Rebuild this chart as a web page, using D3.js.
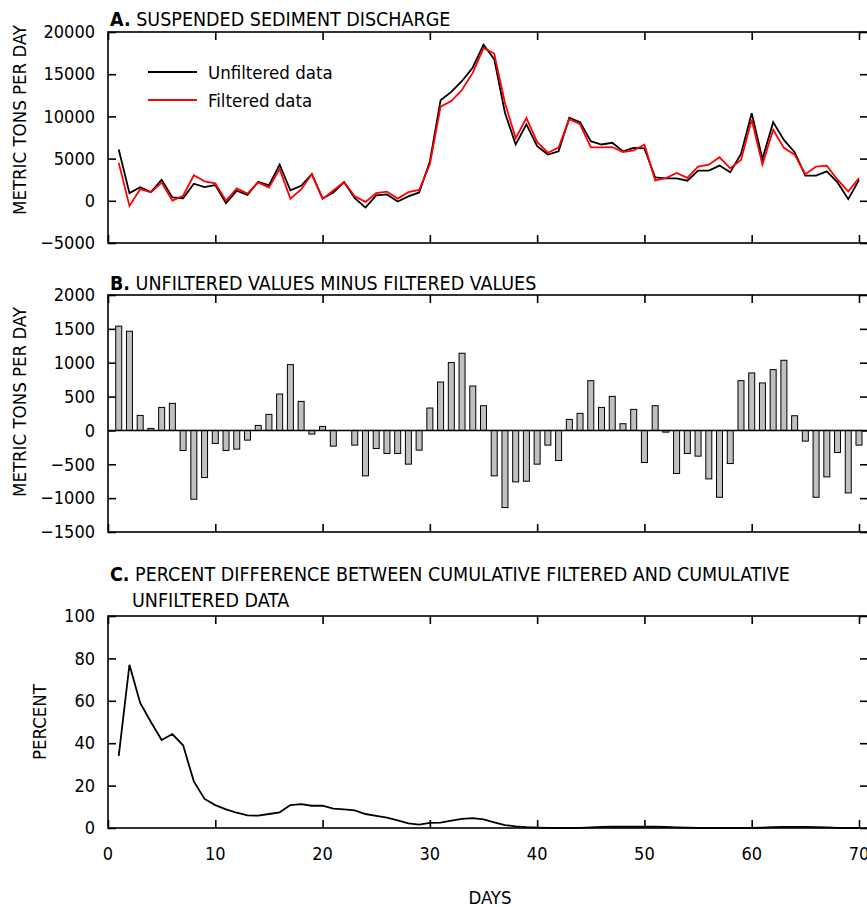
<!DOCTYPE html>
<html><head><meta charset="utf-8">
<script src="https://cdn.jsdelivr.net/npm/d3@7"></script>
<style>
body{margin:0;background:#fff;}
text{font-family:"Liberation Sans Narrow","DejaVu Sans Condensed","Arial Narrow",sans-serif;fill:#000;}
</style></head><body>
<svg id="c" width="867" height="907"></svg>
<script>
const days = d3.range(1, 71);
const unfiltered = [6070,910,1600,1030,2500,400,300,2020,1630,1870,-280,1190,710,2260,1820,4290,1230,1780,3170,280,990,2220,320,-800,640,750,-80,520,990,4650,
  11900,12900,14200,15800,18490,16790,10440,6670,9050,6470,5480,5870,9840,9320,7060,6670,6870,5870,6270,6200,
  2780,2660,2660,2380,3570,3570,4170,3370,5560,10390,4960,9320,7220,5750,2980,2980,3490,2180,200,2460];
const filtered = [4490,-600,1380,1000,2160,20,600,3020,2300,2060,0,1460,850,2190,1580,3750,260,1350,3170,220,1220,2220,540,-130,900,1090,260,1020,1280,4320,
  11150,11820,13150,15150,18100,17450,11580,7430,9800,6970,5700,6310,9680,9070,6330,6330,6370,5770,5960,6670,
  2420,2680,3300,2720,4040,4280,5160,3850,4830,9600,4290,8410,6270,5470,3140,4050,4170,2500,1120,2680];
const difference = [1540,1465,222,30,340,400,-296,-1016,-696,-192,-296,-276,-143,74,237,538,972,429,-54,59,-232,0,-217,-671,-266,-340,-340,-498,-291,331,
  715,1002,1140,656,365,-671,-1140,-760,-750,-498,-217,-444,163,252,735,340,503,99,311,-474,
  365,-25,-636,-340,-380,-716,-987,-489,735,849,701,898,1036,217,-158,-987,-686,-326,-923,-217];
const percentDiff = [34,77,59,50,41.5,44.3,39,22,13.7,10.8,8.8,7.2,6,5.8,6.6,7.4,10.8,11.3,10.5,10.5,9.1,8.8,8.3,6.6,5.7,4.9,3.6,2.2,1.6,2.4,
  2.5,3.5,4.3,4.7,4.1,2.7,1.4,0.8,0.4,0.2,0.1,0,0,0.1,0.3,0.5,0.6,0.6,0.6,0.6,
  0.6,0.5,0.3,0.2,0,0,0,0,0,0,0.2,0.4,0.5,0.5,0.5,0.4,0.3,0.1,0,0];
const xTicks = [0,10,20,30,40,50,60,70];
const yTicksA = [-5000,0,5000,10000,15000,20000];
const yTicksB = [-1500,-1000,-500,0,500,1000,1500,2000];
const yTicksC = [0,20,40,60,80,100];

const svg = d3.select("#c");
const x = d3.scaleLinear().domain([0, 70.84]).range([108, 868]);

function panel(top, bottom, domain, ticks) {
  const y = d3.scaleLinear().domain(domain).range([bottom, top]);
  const g = svg.append("g");
  g.append("rect").attr("x", x(0)).attr("y", top).attr("width", x(70.84)-x(0)).attr("height", bottom-top)
    .attr("fill", "none").attr("stroke", "#000").attr("stroke-width", 1.6);
  const tl = 8;
  g.append("g").attr("transform", `translate(${x(0)},0)`)
    .call(d3.axisLeft(y).tickValues(ticks).tickSize(-tl).tickPadding(13).tickFormat(d3.format("d")))
    .call(s => { s.select(".domain").remove(); s.selectAll("line").attr("stroke-width",1.6);
      s.selectAll("text").attr("font-size", 18); });
  g.append("g").attr("transform", `translate(${x(70.84)},0)`)
    .call(d3.axisRight(y).tickValues(ticks).tickSize(-tl).tickFormat(""))
    .call(s => { s.select(".domain").remove(); s.selectAll("line").attr("stroke-width",1.6); });
  g.append("g").attr("transform", `translate(0,${top})`)
    .call(d3.axisTop(x).tickValues(xTicks).tickSize(-tl).tickFormat(""))
    .call(s => { s.select(".domain").remove(); s.selectAll("line").attr("stroke-width",1.6); });
  g.append("g").attr("transform", `translate(0,${bottom})`)
    .call(d3.axisBottom(x).tickValues(xTicks).tickSize(-tl).tickFormat(""))
    .call(s => { s.select(".domain").remove(); s.selectAll("line").attr("stroke-width",1.6); });
  return {y, g};
}

// Panel A
const A = panel(32, 243, [-5000, 20000], yTicksA);
const lineA = d3.line().x((d,i) => x(days[i])).y(d => A.y(d));
A.g.append("path").datum(unfiltered).attr("d", lineA).attr("fill","none").attr("stroke","#000").attr("stroke-width",1.8);
A.g.append("path").datum(filtered).attr("d", lineA).attr("fill","none").attr("stroke","#ff0000").attr("stroke-width",1.8);
const leg = [["Unfiltered data","#000",72],["Filtered data","#ff0000",100]];
leg.forEach(([t,c,yy]) => {
  svg.append("line").attr("x1",148).attr("x2",197).attr("y1",yy).attr("y2",yy).attr("stroke",c).attr("stroke-width",1.8);
  svg.append("text").attr("x",208).attr("y",yy+7).attr("font-size",18.5).text(t);
});

// Panel B
const B = panel(295, 532, [-1500, 2000], yTicksB);
const bw = 6;
B.g.selectAll("rect.bar").data(difference).join("rect").attr("class","bar")
  .attr("x", (d,i) => x(days[i]) - bw/2).attr("width", bw)
  .attr("y", d => B.y(Math.max(0,d))).attr("height", d => Math.abs(B.y(d) - B.y(0)))
  .attr("fill","#c0c0c0").attr("stroke","#000").attr("stroke-width",1);
B.g.append("line").attr("x1", x(0)).attr("x2", x(70.84)).attr("y1", B.y(0)).attr("y2", B.y(0))
  .attr("stroke","#000").attr("stroke-width",1.6);

// Panel C
const C = panel(616, 828, [0, 100], yTicksC);
const lineC = d3.line().x((d,i) => x(days[i])).y(d => C.y(d));
C.g.append("path").datum(percentDiff).attr("d", lineC).attr("fill","none").attr("stroke","#000").attr("stroke-width",1.8);
svg.append("g").selectAll("text").data(xTicks).join("text")
  .attr("x", d => x(d)).attr("y", 860).attr("text-anchor","middle").attr("font-size",18).text(d => d);

function title(xx, yy, letter, rest) {
  const t = svg.append("text").attr("x", xx).attr("y", yy).attr("font-size", 19.5);
  if (letter) t.append("tspan").attr("font-weight","bold").text(letter);
  t.append("tspan").text(rest);
}
title(110, 26, "A.", " SUSPENDED SEDIMENT DISCHARGE");
title(110, 290, "B.", " UNFILTERED VALUES MINUS FILTERED VALUES");
title(110, 581, "C.", " PERCENT DIFFERENCE BETWEEN CUMULATIVE FILTERED AND CUMULATIVE");
title(132, 607, null, "UNFILTERED DATA");

function ytitle(xx, yy, t) {
  svg.append("text").attr("transform", `translate(${xx},${yy}) rotate(-90)`).attr("text-anchor","middle")
    .attr("font-size", 18.5).text(t);
}
ytitle(26, 120, "METRIC TONS PER DAY");
ytitle(26, 402, "METRIC TONS PER DAY");
ytitle(46, 722, "PERCENT");
svg.append("text").attr("x", 490).attr("y", 904).attr("text-anchor","middle").attr("font-size",18.5).text("DAYS");
</script></body></html>
